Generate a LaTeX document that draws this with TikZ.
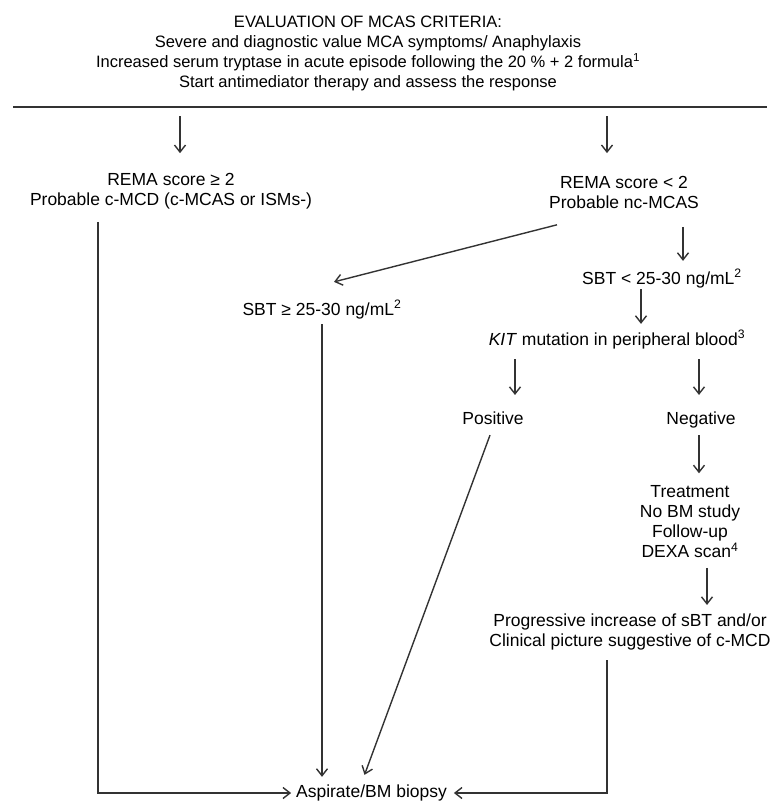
\documentclass[tikz,border=0pt]{standalone}
\usepackage{fontspec}
\setmainfont{Liberation Sans}
\usetikzlibrary{arrows.meta}
\tikzset{connector/.style={line width=1.4pt, draw=black!80}}
\tikzset{flowArrow/.style={connector, -{Straight Barb[length=7pt,width=11pt]}}}
\tikzset{stepText/.style={align=center, inner sep=0pt, outer sep=0pt, font=\fontsize{17.5}{20}\selectfont}}
\tikzset{headText/.style={stepText, font=\fontsize{16.5}{20}\selectfont}}

\begin{document}
\begin{tikzpicture}[x=1pt,y=-1pt]
\useasboundingbox (0,0) rectangle (775,803);

% criteria
\node[headText] (criteria) at (368,53.4) {EVALUATION OF MCAS CRITERIA:\\
  Severe and diagnostic value MCA symptoms/ Anaphylaxis\\
  Increased serum tryptase in acute episode following the 20 \% + 2 formula\textsuperscript{1}\\
  Start antimediator therapy and assess the response};
\coordinate (ruleL) at (13,107);
\coordinate (ruleR) at (767,107);
\draw[connector] (ruleL) -- (ruleR);

% REMA score
\node[stepText] (remaHigh) at (171,191.6) {REMA score ≥ 2\\Probable c-MCD (c-MCAS or ISMs-)};
\node[stepText] (remaLow) at (624,192.8) {REMA score < 2\\Probable nc-MCAS};
\coordinate (splitL) at (180,116);
\coordinate (splitR) at (607,116);
\draw[flowArrow, shorten >=20.5pt] (splitL) -- (splitL |- remaHigh.north);
\draw[flowArrow, shorten >=23.5pt] (splitR) -- (splitR |- remaLow.north);

% serum tryptase
\node[stepText] (sbtHigh) at (322,309.6) {SBT ≥ 25-30 ng/mL\textsuperscript{2}};
\node[stepText] (sbtLow) at (662,278.6) {SBT < 25-30 ng/mL\textsuperscript{2}};
\draw[flowArrow] ([xshift=-67pt,yshift=-15.8pt]remaLow.south) -- ([xshift=12pt,yshift=18.5pt]sbtHigh.north);
\coordinate (lowDrop) at ([xshift=21pt]sbtLow.north);
\draw[flowArrow, shorten <=17.8pt, shorten >=8.5pt] (lowDrop |- remaLow.south) -- (lowDrop);

% KIT
\node[stepText] (kit) at (617,339.6) {\textit{KIT} mutation in peripheral blood\textsuperscript{3}};
\coordinate (kitDrop) at ([xshift=24pt]kit.north);
\draw[flowArrow, shorten <=1.3pt, shorten >=6.5pt] (kitDrop |- sbtLow.south) -- (kitDrop);

\node[stepText] (positive) at (493,417.9) {Positive};
\node[stepText] (negative) at (701,419.6) {Negative};
\coordinate (posDrop) at ([xshift=22pt]positive.north);
\coordinate (negDrop) at ([xshift=-2pt]negative.north);
\draw[flowArrow, shorten <=10.3pt, shorten >=16.5pt] (posDrop |- kit.south) -- (posDrop);
\draw[flowArrow, shorten <=10.3pt, shorten >=16.5pt] (negDrop |- kit.south) -- (negDrop);

% negative branch
\node[stepText] (treatment) at (690,521.9) {Treatment\\No BM study\\Follow-up\\DEXA scan\textsuperscript{4}};
\node[stepText] (progression) at (630,631.6) {Progressive increase of sBT and/or\\Clinical picture suggestive of c-MCD};
\draw[flowArrow, shorten <=7.3pt, shorten >=12.5pt] (negDrop |- negative.south) -- (negDrop |- treatment.north);
\coordinate (treatDrop) at ([xshift=17pt]treatment.south);
\draw[flowArrow, shorten <=9.8pt, shorten >=8.5pt] (treatDrop) -- (treatDrop |- progression.north);

% bone marrow study
\node[stepText] (biopsy) at (371.5,793) {Aspirate/BM biopsy};
\coordinate (railL) at (98,793);
\draw[flowArrow, shorten <=12.3pt, shorten >=5pt] (railL |- remaHigh.south) -- (railL) -- (biopsy.west);
\draw[flowArrow, shorten <=5.3pt, shorten >=8pt] (sbtHigh.south) -- (sbtHigh.south |- biopsy.north);
\draw[flowArrow] ([xshift=-3pt,yshift=-10.8pt]positive.south) -- ([xshift=-7pt,yshift=10pt]biopsy.north);
\coordinate (progDrop) at ([xshift=-23pt]progression.south);
\draw[flowArrow, shorten <=10.3pt, shorten >=7pt] (progDrop) -- (progDrop |- biopsy.east) -- (biopsy.east);
\end{tikzpicture}
\end{document}
